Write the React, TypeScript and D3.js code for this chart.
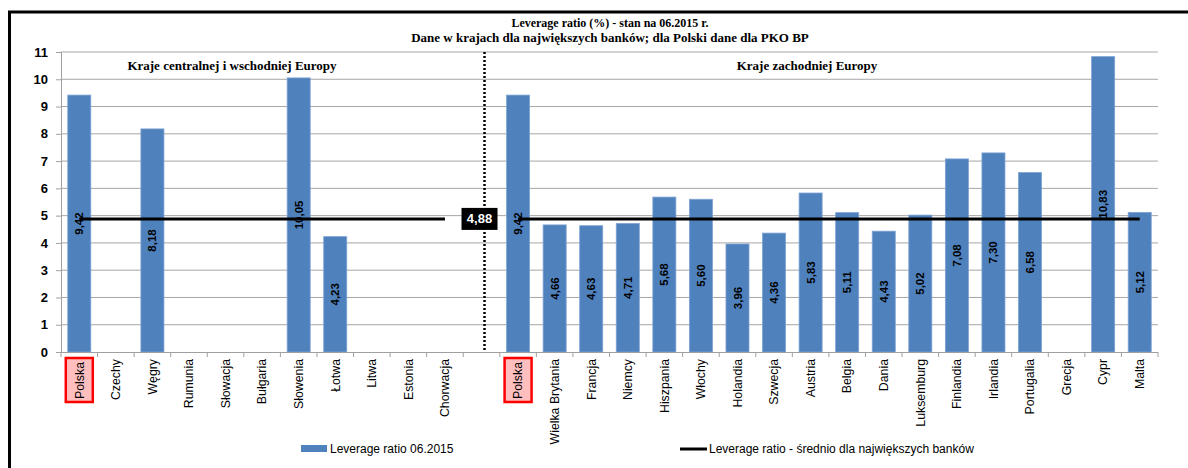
import React, { useEffect, useRef } from "react";
import * as d3 from "d3";

const titleLines = [
	"Leverage ratio (%) - stan na 06.2015 r.",
	"Dane w krajach dla największych banków; dla Polski dane dla PKO BP",
];
const groupLabels = ["Kraje centralnej i wschodniej Europy", "Kraje zachodniej Europy"];

const eastCountries = ["Polska", "Czechy", "Węgry", "Rumunia", "Słowacja", "Bułgaria", "Słowenia", "Łotwa", "Litwa", "Estonia", "Chorwacja"];
const eastValues = [9.42, null, 8.18, null, null, null, 10.05, 4.23, null, null, null];

const westCountries = ["Polska", "Wielka Brytania", "Francja", "Niemcy", "Hiszpania", "Włochy", "Holandia", "Szwecja", "Austria", "Belgia", "Dania", "Luksemburg", "Finlandia", "Irlandia", "Portugalia", "Grecja", "Cypr", "Malta"];
const westValues = [9.42, 4.66, 4.63, 4.71, 5.68, 5.6, 3.96, 4.36, 5.83, 5.11, 4.43, 5.02, 7.08, 7.3, 6.58, null, 10.83, 5.12];

const average = 4.88;
const yTicks = d3.range(0, 12);
const legendBar = "Leverage ratio 06.2015";
const legendLine = "Leverage ratio - średnio dla największych banków";

const W = 1188;
const H = 468;
const sans = "'Liberation Sans', Arial, sans-serif";
const serif = "'Liberation Serif', 'Times New Roman', serif";
const blue = "#4F81BD";

export default function App() {
	const ref = useRef(null);

	useEffect(() => {
		const svg = d3.select(ref.current);
		svg.selectAll("*").remove();

		// categories: east group, one empty slot for the divider, west group
		const rows = [
			...eastCountries.map((c, i) => ({ key: "e" + i, name: c, value: eastValues[i] })),
			{ key: "gap", name: "", value: null },
			...westCountries.map((c, i) => ({ key: "w" + i, name: c, value: westValues[i] })),
		];

		const x = d3.scaleBand().domain(rows.map((d) => d.key)).range([61, 1158]).padding(0);
		const y = d3.scaleLinear().domain([0, 11]).range([352, 52]);
		const step = x.bandwidth();
		const barW = step * 0.63;
		const cx = (k) => x(k) + step / 2;
		const fmt = (v) => d3.format(".2f")(v).replace(".", ",");

		// frame
		svg.append("path")
			.attr("d", `M8,12H${W}M9.5,11V${H}`)
			.attr("stroke", "black")
			.attr("stroke-width", 3)
			.attr("fill", "none");

		// gridlines
		svg.append("g")
			.selectAll("line")
			.data(yTicks.filter((t) => t > 0))
			.join("line")
			.attr("x1", 61)
			.attr("x2", 1158)
			.attr("y1", (d) => y(d))
			.attr("y2", (d) => y(d))
			.attr("stroke", "#a6a6a6")
			.attr("stroke-width", 1);

		// y axis
		const yAxis = svg.append("g")
			.attr("transform", "translate(61,0)")
			.call(d3.axisLeft(y).tickValues(yTicks).tickSize(5).tickPadding(8));
		yAxis.select(".domain").attr("stroke", "#a0a0a0");
		yAxis.selectAll(".tick line").attr("stroke", "#a0a0a0");
		yAxis.selectAll("text")
			.attr("font-family", sans)
			.attr("font-weight", "bold")
			.attr("font-size", 13)
			.attr("fill", "black");

		// bars
		svg.append("g")
			.selectAll("rect")
			.data(rows.filter((d) => d.value != null))
			.join("rect")
			.attr("x", (d) => cx(d.key) - barW / 2)
			.attr("y", (d) => y(d.value))
			.attr("width", barW)
			.attr("height", (d) => y(0) - y(d.value))
			.attr("fill", blue)
			.attr("stroke", "#7ea3d3")
			.attr("stroke-width", 0.8);

		// x axis line and ticks at category boundaries
		svg.append("line")
			.attr("x1", 61)
			.attr("x2", 1158)
			.attr("y1", y(0) + 0.5)
			.attr("y2", y(0) + 0.5)
			.attr("stroke", "#a0a0a0");
		svg.append("g")
			.selectAll("line")
			.data(d3.range(rows.length + 1))
			.join("line")
			.attr("x1", (i) => 61 + i * step)
			.attr("x2", (i) => 61 + i * step)
			.attr("y1", y(0))
			.attr("y2", y(0) + 5)
			.attr("stroke", "#a0a0a0");

		// average line, one segment per group
		const line = d3.line().x((d) => cx(d.key)).y(() => y(average));
		const east = rows.filter((d) => d.key[0] === "e");
		const west = rows.filter((d) => d.key[0] === "w");
		[east, west].forEach((seg) => {
			svg.append("path")
				.attr("d", line([seg[0], seg[seg.length - 1]]))
				.attr("stroke", "black")
				.attr("stroke-width", 3)
				.attr("fill", "none");
		});

		// divider between the groups
		svg.append("line")
			.attr("x1", cx("gap") + 3)
			.attr("x2", cx("gap") + 3)
			.attr("y1", y(11))
			.attr("y2", y(0))
			.attr("stroke", "black")
			.attr("stroke-width", 2.5)
			.attr("stroke-dasharray", "2,2");

		// value labels
		svg.append("g")
			.selectAll("text")
			.data(rows.filter((d) => d.value != null))
			.join("text")
			.attr("transform", (d) => `translate(${cx(d.key)},${(y(d.value) + y(0)) / 2}) rotate(-90)`)
			.attr("text-anchor", "middle")
			.attr("dy", "0.35em")
			.attr("font-family", sans)
			.attr("font-weight", "bold")
			.attr("font-size", 11.5)
			.attr("fill", "black")
			.text((d) => fmt(d.value));

		// average value box
		const bx = cx("gap") - 2;
		svg.append("rect")
			.attr("x", bx - 18)
			.attr("y", y(average) - 11)
			.attr("width", 36)
			.attr("height", 22)
			.attr("fill", "black");
		svg.append("text")
			.attr("x", bx)
			.attr("y", y(average))
			.attr("dy", "0.35em")
			.attr("text-anchor", "middle")
			.attr("font-family", sans)
			.attr("font-weight", "bold")
			.attr("font-size", 13)
			.attr("fill", "white")
			.text(fmt(average));

		// highlighted Polska boxes
		svg.append("g")
			.selectAll("rect")
			.data(rows.filter((d) => d.name === "Polska"))
			.join("rect")
			.attr("x", (d) => cx(d.key) - 13.5)
			.attr("y", 358)
			.attr("width", 27)
			.attr("height", 44)
			.attr("fill", "#FFBFBF")
			.attr("stroke", "#ff0000")
			.attr("stroke-width", 2.5);

		// category labels
		svg.append("g")
			.selectAll("text")
			.data(rows.filter((d) => d.name))
			.join("text")
			.attr("transform", (d) => `translate(${cx(d.key)},${d.name === "Polska" ? 362 : 359}) rotate(-90)`)
			.attr("text-anchor", "end")
			.attr("dy", "0.35em")
			.attr("font-family", sans)
			.attr("font-size", 12.3)
			.attr("fill", "black")
			.text((d) => d.name);

		// titles
		svg.append("g")
			.selectAll("text")
			.data(titleLines)
			.join("text")
			.attr("x", 610)
			.attr("y", (d, i) => 27 + i * 15)
			.attr("text-anchor", "middle")
			.attr("font-family", serif)
			.attr("font-weight", "bold")
			.attr("font-size", (d, i) => (i === 0 ? 12 : 13))
			.text((d) => d);

		svg.append("g")
			.selectAll("text")
			.data(groupLabels)
			.join("text")
			.attr("x", (d, i) => (i === 0 ? 232 : 807))
			.attr("y", 70)
			.attr("text-anchor", "middle")
			.attr("font-family", serif)
			.attr("font-weight", "bold")
			.attr("font-size", 13)
			.text((d) => d);

		// legend
		const lg = svg.append("g").attr("font-family", sans).attr("font-size", 12);
		lg.append("rect").attr("x", 301).attr("y", 445).attr("width", 26).attr("height", 7).attr("fill", blue);
		lg.append("text").attr("x", 330).attr("y", 449).attr("dy", "0.35em").text(legendBar);
		lg.append("line").attr("x1", 680).attr("x2", 707).attr("y1", 449).attr("y2", 449).attr("stroke", "black").attr("stroke-width", 3);
		lg.append("text").attr("x", 709).attr("y", 449).attr("dy", "0.35em").text(legendLine);
	}, []);

	return (
		<svg
			ref={ref}
			width={W}
			height={H}
			style={{ position: "absolute", left: 0, top: 0, background: "white" }}
		/>
	);
}
